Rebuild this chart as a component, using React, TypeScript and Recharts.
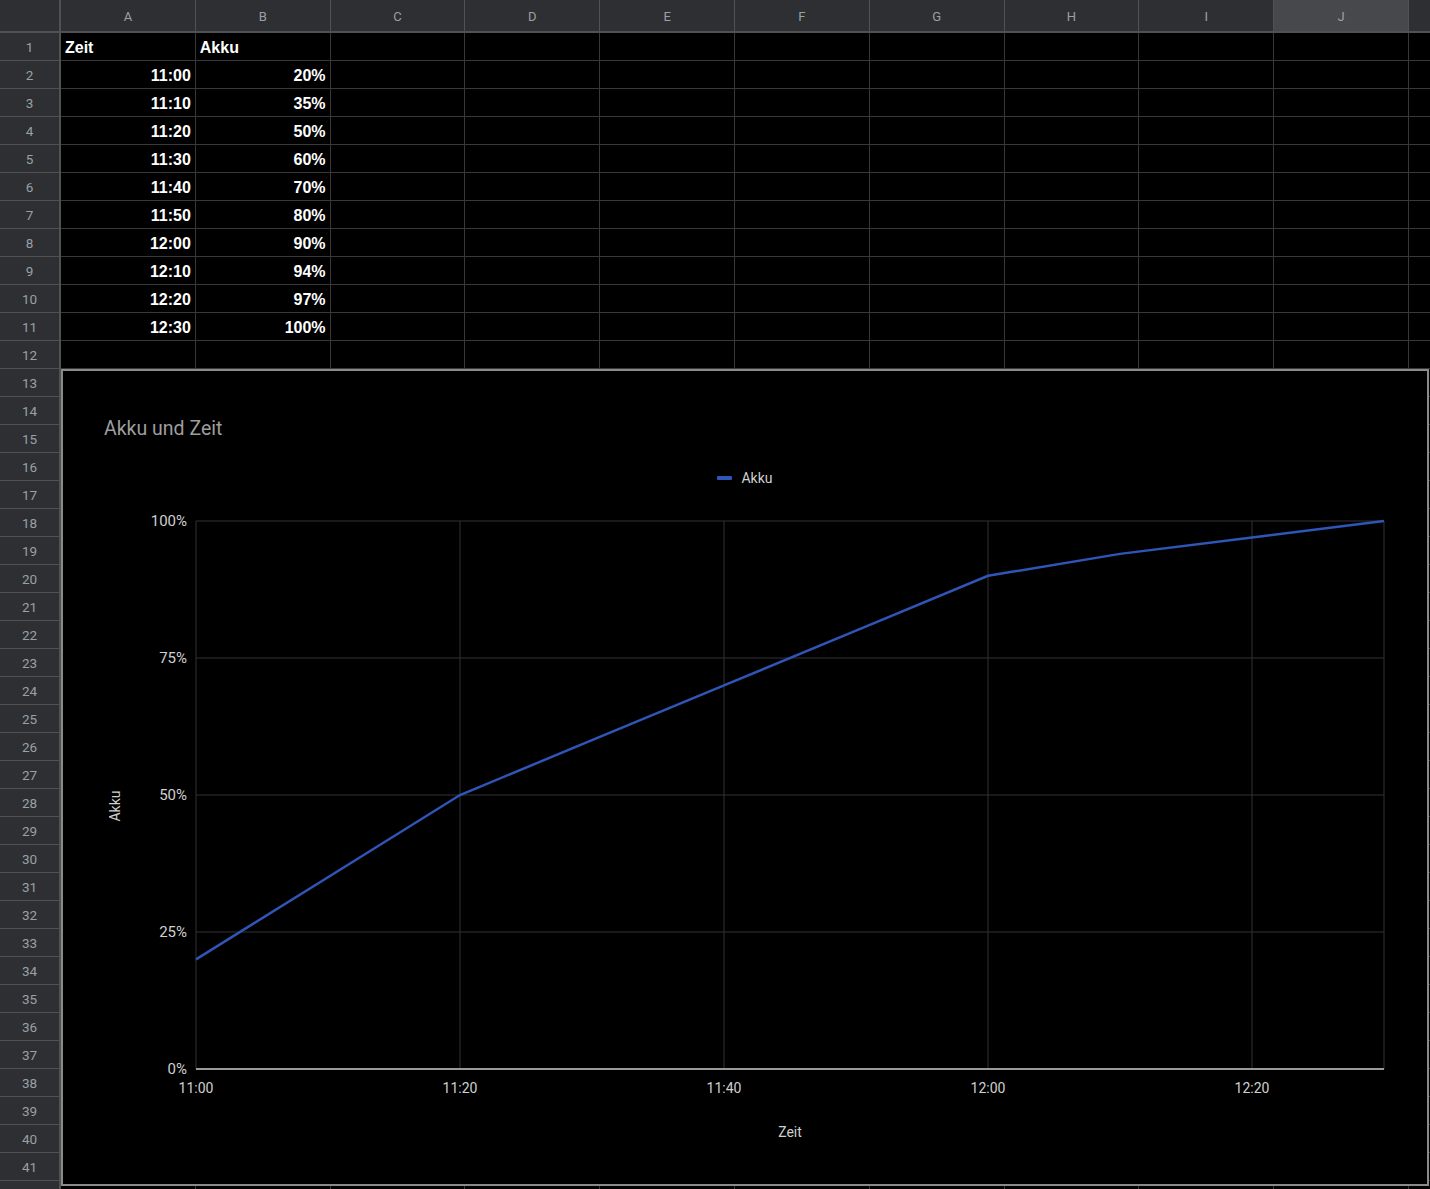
import React from "react";
import {
  LineChart,
  Line,
  XAxis,
  YAxis,
  CartesianGrid,
  Legend,
  Label,
} from "recharts";

// values from the sheet (A2:B11)
const times = ["11:00", "11:10", "11:20", "11:30", "11:40", "11:50", "12:00", "12:10", "12:20", "12:30"];
const akku = [20, 35, 50, 60, 70, 80, 90, 94, 97, 100];

const xTicks = ["11:00", "11:20", "11:40", "12:00", "12:20"];
const yTicks = [0, 25, 50, 75, 100];

const columns = ["A", "B", "C", "D", "E", "F", "G", "H", "I", "J", "K"];
const rowCount = 42;
const labelledRows = 41;

const toMinutes = (t: string) => {
  const [h, m] = t.split(":").map(Number);
  return h * 60 + m;
};
const startMin = toMinutes(times[0]);
const fmtTime = (v: number) => {
  const total = startMin + v;
  const h = Math.floor(total / 60);
  const m = total % 60;
  return `${h}:${String(m).padStart(2, "0")}`;
};

const chartData = times.map((t, i) => ({ t: toMinutes(t) - startMin, akku: akku[i] }));

const ROW_HEAD_W = 61;
const COL_HEAD_H = 33;
const COL_W = 134.8;
const ROW_H = 28;

const headBg = "#2e2f32";
const headLine = "#505154";
const cellLine = "#383838";
const chartFont = "Roboto, 'Noto Sans', sans-serif";
const lineColor = "#2f55b8";

function Sheet() {
  const cells: React.ReactNode[] = [];
  // column header
  columns.forEach((c, i) => {
    const left = ROW_HEAD_W + i * COL_W;
    cells.push(
      <div
        key={"ch" + c}
        style={{
          position: "absolute",
          left,
          top: 0,
          width: COL_W,
          height: COL_HEAD_H,
          boxSizing: "border-box",
          background: c === "J" ? "#46484b" : headBg,
          borderRight: `1px solid ${headLine}`,
          borderBottom: `2px solid ${headLine}`,
          color: "#9aa0a6",
          fontSize: 13,
          lineHeight: COL_HEAD_H + "px",
          textAlign: "center",
        }}
      >
        {left + COL_W <= 1430 ? c : ""}
      </div>
    );
  });
  cells.push(
    <div
      key="corner"
      style={{
        position: "absolute",
        left: 0,
        top: 0,
        width: ROW_HEAD_W,
        height: COL_HEAD_H,
        boxSizing: "border-box",
        background: headBg,
        borderRight: `2px solid ${headLine}`,
        borderBottom: `2px solid ${headLine}`,
      }}
    />
  );
  for (let r = 0; r < rowCount; r++) {
    const top = COL_HEAD_H + r * ROW_H;
    cells.push(
      <div
        key={"rh" + r}
        style={{
          position: "absolute",
          left: 0,
          top,
          width: ROW_HEAD_W,
          height: ROW_H,
          boxSizing: "border-box",
          background: headBg,
          borderRight: `2px solid ${headLine}`,
          borderBottom: `1px solid ${headLine}`,
          color: "#9aa0a6",
          fontSize: 13.5,
          lineHeight: ROW_H + "px",
          textAlign: "center",
        }}
      >
        {r < labelledRows ? r + 1 : ""}
      </div>
    );
    columns.forEach((c, i) => {
      let text = "";
      let align: "left" | "right" = "right";
      if (r === 0 && i === 0) { text = "Zeit"; align = "left"; }
      if (r === 0 && i === 1) { text = "Akku"; align = "left"; }
      if (r >= 1 && r <= times.length) {
        if (i === 0) text = times[r - 1];
        if (i === 1) text = akku[r - 1] + "%";
      }
      cells.push(
        <div
          key={`c${r}-${c}`}
          style={{
            position: "absolute",
            left: ROW_HEAD_W + i * COL_W,
            top,
            width: COL_W,
            height: ROW_H,
            boxSizing: "border-box",
            background: "#000",
            borderRight: `1px solid ${cellLine}`,
            borderBottom: `1px solid ${cellLine}`,
            color: "#fff",
            fontFamily: "'Liberation Sans', Arial, sans-serif",
            fontWeight: "bold",
            fontSize: 16,
            lineHeight: ROW_H + 1 + "px",
            textAlign: align,
            padding: "0 4px",
            overflow: "hidden",
          }}
        >
          {text}
        </div>
      );
    });
  }
  return <>{cells}</>;
}

const renderLegend = (props: any) => {
  const { payload } = props;
  return (
    <div style={{ display: "flex", justifyContent: "center" }}>
      {(payload || []).map((entry: any) => (
        <div key={entry.value} style={{ display: "flex", alignItems: "center" }}>
          <span
            style={{
              display: "inline-block",
              width: 15,
              height: 4,
              borderRadius: 1,
              background: entry.color,
              marginRight: 9,
            }}
          />
          <span style={{ color: "#d0d0d0", fontSize: 14, fontFamily: chartFont }}>{entry.value}</span>
        </div>
      ))}
    </div>
  );
};

const renderYLabel = (props: any) => {
  const { viewBox } = props;
  const cx = viewBox.x + 19;
  const cy = viewBox.y + viewBox.height / 2 + 11;
  return (
    <text
      x={cx}
      y={cy}
      transform={`rotate(-90, ${cx}, ${cy})`}
      textAnchor="middle"
      dominantBaseline="central"
      fill="#d0d0d0"
      fontSize={14}
      fontFamily={chartFont}
    >
      Akku
    </text>
  );
};

function AkkuChart() {
  return (
    <div
      style={{
        position: "absolute",
        left: 61,
        top: 369,
        width: 1368,
        height: 817,
        boxSizing: "border-box",
        border: "2px solid #8a8a8a",
        background: "#000",
        fontFamily: chartFont,
      }}
    >
      <div
        style={{
          position: "absolute",
          left: 41,
          top: 46,
          color: "#9e9e9e",
          fontSize: 19.5,
          fontFamily: chartFont,
        }}
      >
        Akku und Zeit
      </div>
      <LineChart
        width={1364}
        height={813}
        data={chartData}
        margin={{ top: 150, right: 43, bottom: 85, left: 33 }}
      >
        <CartesianGrid stroke="#333333" />
        <XAxis
          dataKey="t"
          type="number"
          domain={[0, 90]}
          ticks={xTicks.map((t) => toMinutes(t) - startMin)}
          tickFormatter={fmtTime}
          height={30}
          tickLine={false}
          tickSize={0}
          tickMargin={14}
          axisLine={{ stroke: "#9a9a9a", strokeWidth: 2 }}
          tick={{ fill: "#d0d0d0", fontSize: 14, fontFamily: chartFont }}
        >
          <Label
            value="Zeit"
            position="bottom"
            offset={28}
            fill="#d0d0d0"
            fontSize={14}
            fontFamily={chartFont}
          />
        </XAxis>
        <YAxis
          domain={[0, 100]}
          ticks={yTicks}
          tickFormatter={(v: number) => v + "%"}
          width={100}
          tickLine={false}
          axisLine={false}
          tickSize={0}
          tickMargin={9}
          tick={{ fill: "#d0d0d0", fontSize: 15, fontFamily: chartFont }}
        >
          <Label content={renderYLabel} />
        </YAxis>
        <Legend
          verticalAlign="middle"
          align="center"
          layout="horizontal"
          wrapperStyle={{ top: 99, left: 0, width: 1364 }}
          content={renderLegend}
        />
        <Line
          dataKey="akku"
          name="Akku"
          stroke={lineColor}
          strokeWidth={2.5}
          dot={false}
          isAnimationActive={false}
        />
      </LineChart>
    </div>
  );
}

export default function App() {
  return (
    <div
      style={{
        position: "absolute",
        left: 0,
        top: 0,
        width: 1430,
        height: 1189,
        overflow: "hidden",
        background: "#000",
        fontFamily: "Roboto, sans-serif",
      }}
    >
      <Sheet />
      <AkkuChart />
    </div>
  );
}
